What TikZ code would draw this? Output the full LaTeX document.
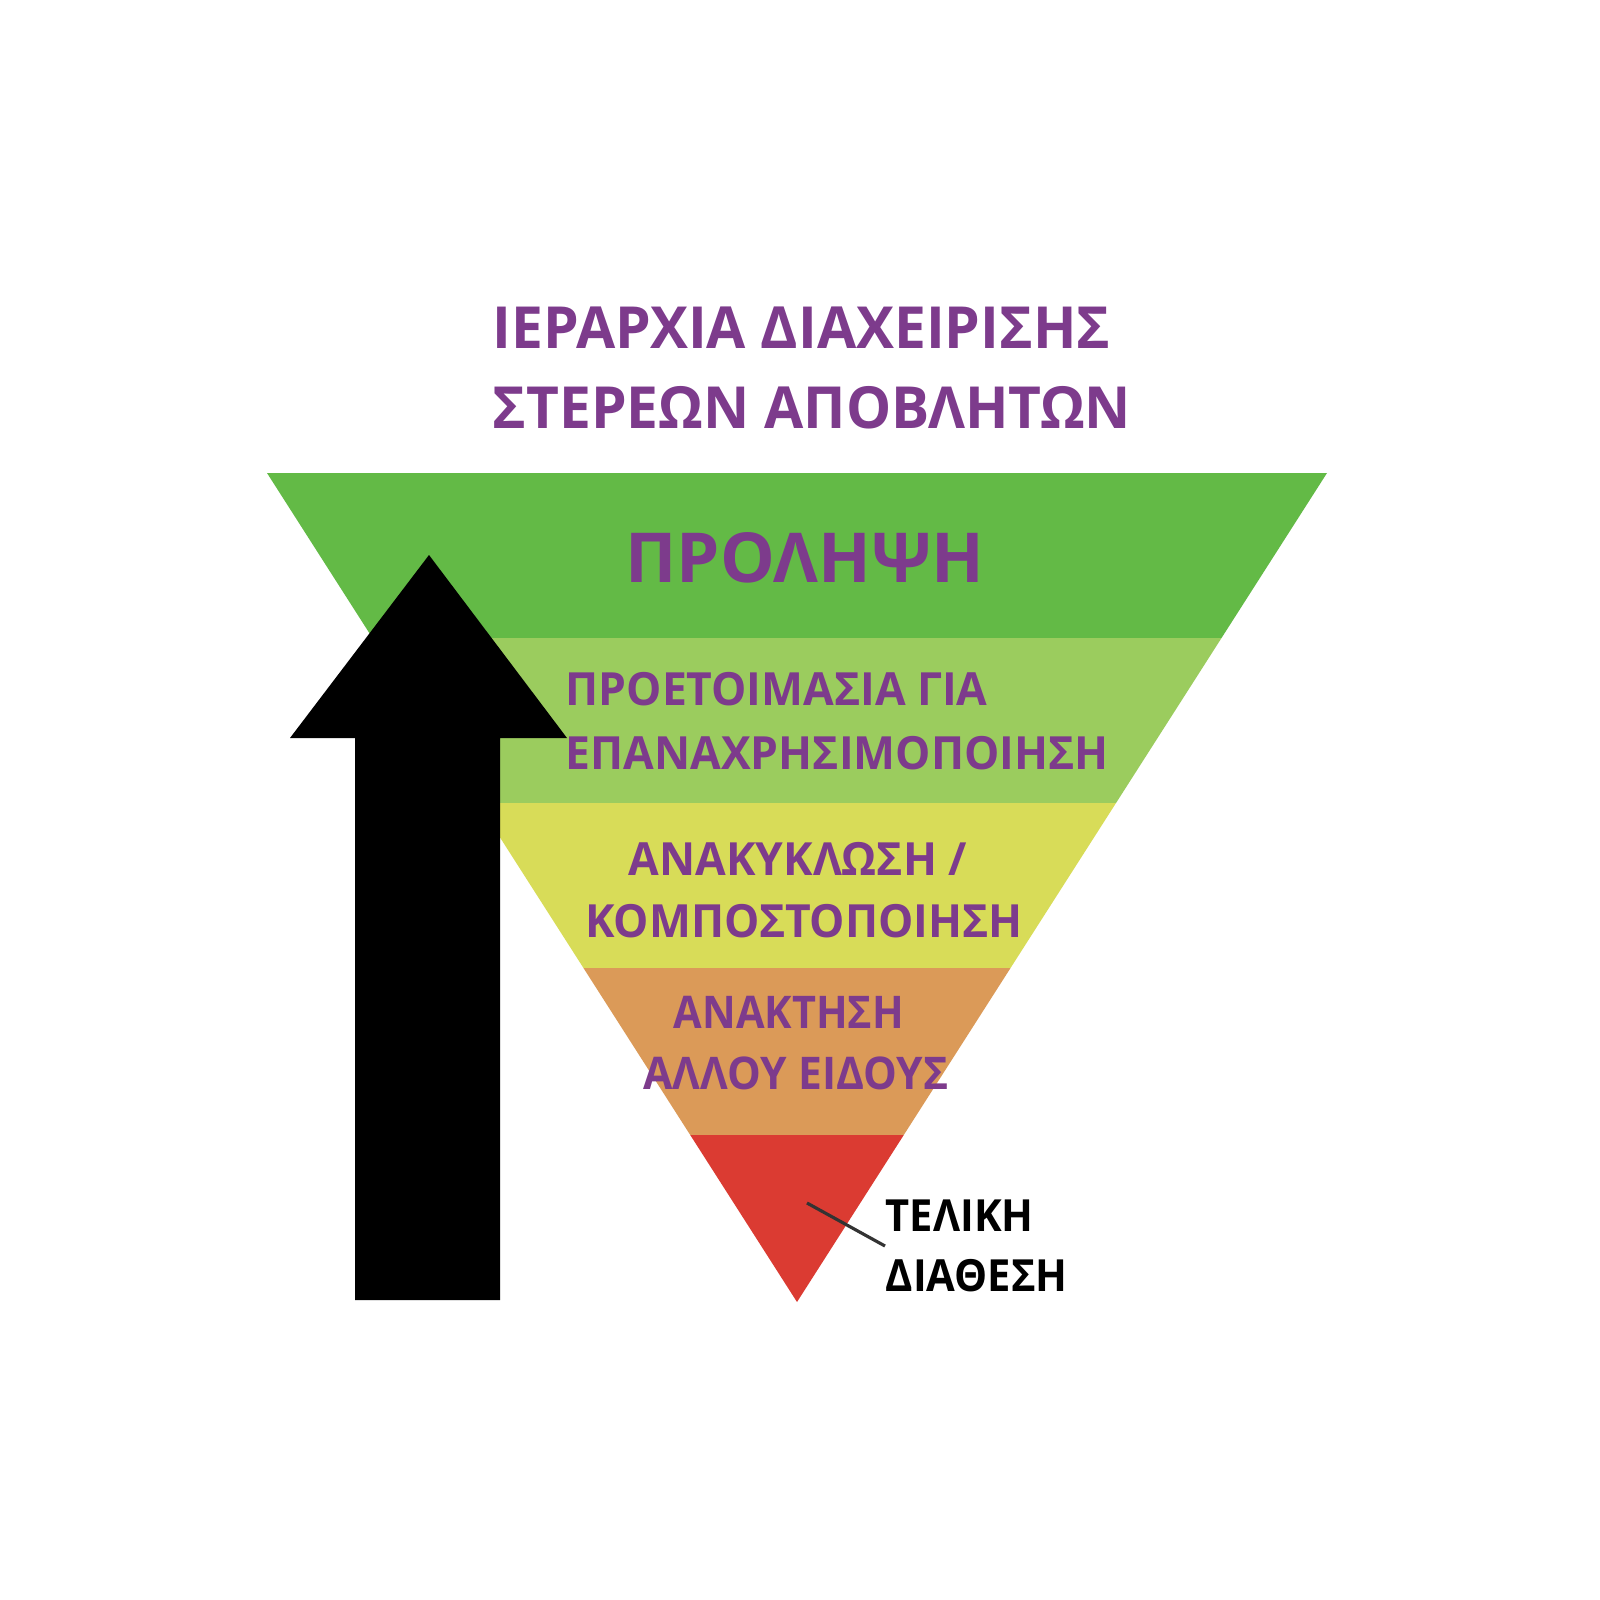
\documentclass[tikz,border=0pt]{standalone}
\usepackage{fontspec}
\setmainfont{Open Sans}
\newfontfamily\osTitle{Open Sans}[FakeStretch=0.98]
\newfontfamily\osBand{Open Sans}[FakeStretch=0.972]
\newfontfamily\osLow{Open Sans}[FakeStretch=0.92]
\newfontfamily\osLowB{Open Sans}[FakeStretch=0.945]
\newfontfamily\osFin{Open Sans}[FakeStretch=0.94]
\definecolor{gA}{HTML}{63BA46}
\definecolor{gB}{HTML}{9BCC5E}
\definecolor{yC}{HTML}{D8DC58}
\definecolor{oD}{HTML}{DB9A58}
\definecolor{rE}{HTML}{DB3B32}
\definecolor{purp}{HTML}{7D3B8C}
\tikzset{
  ttl/.style={inner sep=0pt, text=purp, font=\osTitle\bfseries\fontsize{16.5}{20}\selectfont},
  big/.style={inner sep=0pt, text=purp, font=\bfseries\fontsize{19.6}{24}\selectfont},
  band/.style={inner sep=0pt, text=purp, font=\osBand\bfseries\fontsize{13}{16}\selectfont},
  bandlow/.style={inner sep=0pt, text=purp, font=\osLow\bfseries\fontsize{12.8}{16}\selectfont},
  bandlowb/.style={inner sep=0pt, text=purp, font=\osLowB\bfseries\fontsize{12.8}{16}\selectfont},
  blk/.style={inner sep=0pt, text=black, align=left, font=\osFin\bfseries\fontsize{12.6}{17.1}\selectfont},
  leader/.style={draw=black!80, line width=0.9pt}
}
\begin{document}
\begin{tikzpicture}[x=0.01cm, y=-0.01cm]
\useasboundingbox (0,0) rectangle (1600,1600);
\fill[white] (0,0) rectangle (1600,1600);
% inverted triangle with bands
\begin{scope}
  \clip (267,473) -- (1327,473) -- (797,1302) -- cycle;
  \fill[gA] (200,473) rectangle (1400,638);
  \fill[gB] (200,638) rectangle (1400,803);
  \fill[yC] (200,803) rectangle (1400,968);
  \fill[oD] (200,968) rectangle (1400,1135);
  \fill[rE] (200,1135) rectangle (1400,1310);
\end{scope}
% black arrow
\fill[black] (429,555) -- (567,738) -- (500,738) -- (500,1300) -- (355,1300) -- (355,738) -- (290,738) -- cycle;
% title
\node[ttl, anchor=base west] (t1) at (492,348) {ΙΕΡΑΡΧΙΑ ΔΙΑΧΕΙΡΙΣΗΣ};
\node[ttl, anchor=base west] (t2) at (492,428) {ΣΤΕΡΕΩΝ ΑΠΟΒΛΗΤΩΝ};
% band labels
\node[big, anchor=base] (b1) at (805,582) {ΠΡΟΛΗΨΗ};
\node[band, anchor=base west] (b2a) at (565,705) {ΠΡΟΕΤΟΙΜΑΣΙΑ ΓΙΑ};
\node[band, anchor=base west] (b2b) at (565,769) {ΕΠΑΝΑΧΡΗΣΙΜΟΠΟΙΗΣΗ};
\node[band, anchor=base] (b3a) at (798,875) {ΑΝΑΚΥΚΛΩΣΗ /};
\node[band, anchor=base] (b3b) at (804,937) {ΚΟΜΠΟΣΤΟΠΟΙΗΣΗ};
\node[bandlow, anchor=base] (b4a) at (789,1028) {ΑΝΑΚΤΗΣΗ};
\node[bandlowb, anchor=base] (b4b) at (796,1089) {ΑΛΛΟΥ ΕΙΔΟΥΣ};
% final disposal label
\node[blk, anchor=west] (fin) at (885,1246) {ΤΕΛΙΚΗ\\ΔΙΑΘΕΣΗ};
\coordinate (lp) at (807,1203);
\draw[leader] (lp) -- (fin.west);
\end{tikzpicture}
\end{document}
